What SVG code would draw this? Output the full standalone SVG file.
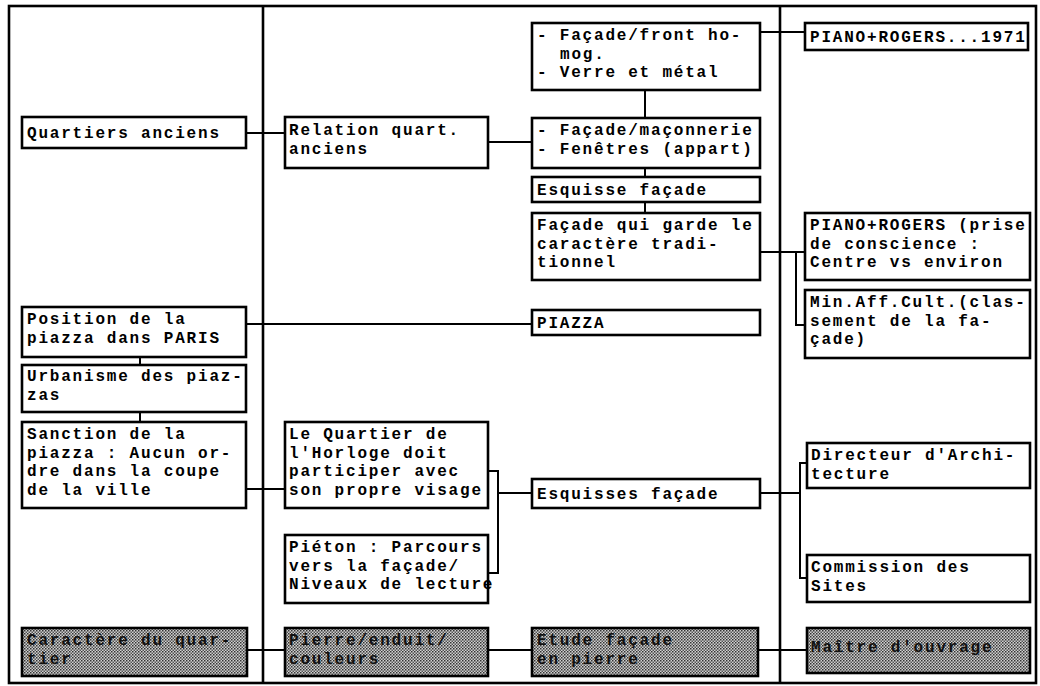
<svg xmlns="http://www.w3.org/2000/svg" width="1040" height="686" viewBox="0 0 1040 686">
<defs>
<pattern id="dither" width="3" height="3" patternUnits="userSpaceOnUse">
<rect width="3" height="3" fill="#d0d0d0"/>
<rect x="0" y="0" width="1.5" height="1.5" fill="#333"/>
<rect x="1.5" y="1.5" width="1.5" height="1.5" fill="#555"/>
</pattern>
</defs>
<style>
.box{fill:#fff;stroke:#000;stroke-width:2.6}
.shade{fill:url(#dither);stroke:#000;stroke-width:2.6}
.t{font-family:"Liberation Mono","Courier New",monospace;font-weight:bold;font-size:16px;letter-spacing:1.8px;fill:#000}
.ts{font-family:"Liberation Mono","Courier New",monospace;font-weight:bold;font-size:16px;letter-spacing:1.8px;fill:#111}
.frame{fill:none;stroke:#000;stroke-width:2.6}
.c{fill:none;stroke:#000;stroke-width:2}
</style>
<rect width="1040" height="686" fill="#fff"/>
<g id="frame">
<rect class="frame" x="9" y="6" width="1027" height="677"/>
<line class="frame" x1="263" y1="6" x2="263" y2="683"/>
<line class="frame" x1="780" y1="6" x2="780" y2="683"/>
</g>
<g id="connectors">
<path class="c" d="M246 133H285"/>
<path class="c" d="M488 142H532"/>
<path class="c" d="M645 90V118M645 168V177M645 202V213"/>
<path class="c" d="M760 32H805"/>
<path class="c" d="M760 252H805M796 252V325H805"/>
<path class="c" d="M246 324H532"/>
<path class="c" d="M140 357V365M140 412V422"/>
<path class="c" d="M246 489H285"/>
<path class="c" d="M488 471H498V573H488M498 493H532"/>
<path class="c" d="M760 493H800M807 463H800V578H807"/>
<path class="c" d="M247 650H285M488 650H532M758 650H807"/>
</g>
<g id="n-quartiers"><rect class="box" x="22" y="117" width="224" height="31"/><text class="t" x="27" y="138">Quartiers anciens</text></g>
<g id="n-position"><rect class="box" x="22" y="307" width="224" height="50"/><text class="t" x="27" y="324">Position de la<tspan x="27" dy="18.5">piazza dans PARIS</tspan></text></g>
<g id="n-urbanisme"><rect class="box" x="22" y="365" width="224" height="47"/><text class="t" x="27" y="381">Urbanisme des piaz-<tspan x="27" dy="18.5">zas</tspan></text></g>
<g id="n-sanction"><rect class="box" x="22" y="422" width="224" height="86"/><text class="t" x="27" y="439">Sanction de la<tspan x="27" dy="18.5">piazza : Aucun or-</tspan><tspan x="27" dy="18.5">dre dans la coupe</tspan><tspan x="27" dy="18.5">de la ville</tspan></text></g>
<g id="n-caractere"><rect class="shade" x="22" y="628" width="225" height="48"/><text class="ts" x="27" y="645">Caractère du quar-<tspan x="27" dy="18.5">tier</tspan></text></g>
<g id="n-relation"><rect class="box" x="285" y="117" width="203" height="51"/><text class="t" x="289" y="135">Relation quart.<tspan x="289" dy="18.5">anciens</tspan></text></g>
<g id="n-horloge"><rect class="box" x="285" y="422" width="203" height="86"/><text class="t" x="289" y="439">Le Quartier de<tspan x="289" dy="18.5">l'Horloge doit</tspan><tspan x="289" dy="18.5">participer avec</tspan><tspan x="289" dy="18.5">son propre visage</tspan></text></g>
<g id="n-pieton"><rect class="box" x="285" y="535" width="203" height="68"/><text class="t" x="289" y="552">Piéton : Parcours<tspan x="289" dy="18.5">vers la façade/</tspan><tspan x="289" dy="18.5">Niveaux de lecture</tspan></text></g>
<g id="n-pierre"><rect class="shade" x="285" y="628" width="203" height="48"/><text class="ts" x="289" y="645">Pierre/enduit/<tspan x="289" dy="18.5">couleurs</tspan></text></g>
<g id="n-front"><rect class="box" x="532" y="23" width="228" height="67"/><text class="t" x="537" y="40">- Façade/front ho-<tspan x="560" dy="18.5">mog.</tspan><tspan x="537" dy="18.5">- Verre et métal</tspan></text></g>
<g id="n-maconnerie"><rect class="box" x="532" y="118" width="228" height="50"/><text class="t" x="537" y="135">- Façade/maçonnerie<tspan x="537" dy="18.5">- Fenêtres (appart)</tspan></text></g>
<g id="n-esquisse"><rect class="box" x="532" y="177" width="228" height="25"/><text class="t" x="537" y="195">Esquisse façade</text></g>
<g id="n-traditionnel"><rect class="box" x="532" y="213" width="228" height="67"/><text class="t" x="537" y="230">Façade qui garde le<tspan x="537" dy="18.5">caractère tradi-</tspan><tspan x="537" dy="18.5">tionnel</tspan></text></g>
<g id="n-piazza"><rect class="box" x="532" y="310" width="228" height="25"/><text class="t" x="537" y="328">PIAZZA</text></g>
<g id="n-esquisses"><rect class="box" x="532" y="479" width="228" height="29"/><text class="t" x="537" y="499">Esquisses façade</text></g>
<g id="n-etude"><rect class="shade" x="532" y="628" width="226" height="48"/><text class="ts" x="537" y="645">Etude façade<tspan x="537" dy="18.5">en pierre</tspan></text></g>
<g id="n-piano1971"><rect class="box" x="805" y="23" width="223" height="27"/><text class="t" x="810" y="42">PIANO+ROGERS...1971</text></g>
<g id="n-piano-prise"><rect class="box" x="805" y="213" width="225" height="67"/><text class="t" x="810" y="230">PIANO+ROGERS (prise<tspan x="810" dy="18.5">de conscience :</tspan><tspan x="810" dy="18.5">Centre vs environ</tspan></text></g>
<g id="n-minaff"><rect class="box" x="805" y="290" width="225" height="68"/><text class="t" x="810" y="307">Min.Aff.Cult.(clas-<tspan x="810" dy="18.5">sement de la fa-</tspan><tspan x="810" dy="18.5">çade)</tspan></text></g>
<g id="n-directeur"><rect class="box" x="807" y="443" width="223" height="45"/><text class="t" x="811" y="460">Directeur d'Archi-<tspan x="811" dy="18.5">tecture</tspan></text></g>
<g id="n-commission"><rect class="box" x="807" y="555" width="223" height="47"/><text class="t" x="811" y="572">Commission des<tspan x="811" dy="18.5">Sites</tspan></text></g>
<g id="n-maitre"><rect class="shade" x="807" y="628" width="223" height="45"/><text class="ts" x="811" y="652">Maître d'ouvrage</text></g>
</svg>
